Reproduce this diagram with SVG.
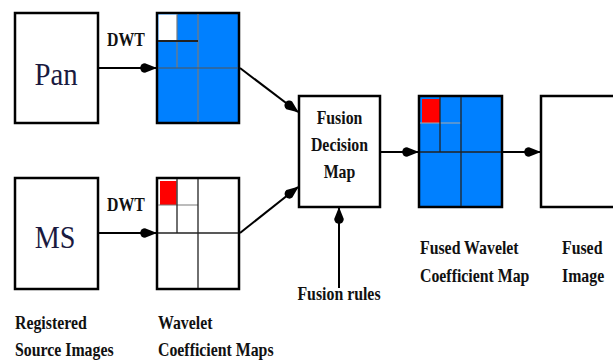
<svg xmlns="http://www.w3.org/2000/svg" width="613" height="360" viewBox="0 0 613 360">
<defs>
<style>
.box{fill:#fff;stroke:#000;stroke-width:2.5}
.map{stroke:#000;stroke-width:2.5}
.blue{fill:#0080ff}
.white{fill:#fff}
.red{fill:#ff0000}
.g{stroke:#7a7a7a;stroke-width:1.2;fill:none}
.k{stroke:#222;stroke-width:1.3;fill:none}
text{font-family:'Liberation Serif','Times New Roman',Times,'DejaVu Serif',serif}
.lbl{font-weight:bold;font-size:18px;fill:#111}
.big{font-size:32px;fill:#1a1a40}
.conn{stroke:#000;stroke-width:2;fill:none;marker-end:url(#ah)}
</style>
<marker id="ah" markerUnits="userSpaceOnUse" markerWidth="24" markerHeight="14" viewBox="-20 -7 22 14" refX="-1" refY="0" orient="auto">
<path d="M0,0 L-12,-4.8 A4.8,4.8 0 0 0 -12,4.8 Z" fill="#000"/>
</marker>
</defs>
<g id="connectors">
<line class="conn" x1="98" y1="68" x2="156" y2="68"/>
<line class="conn" x1="98" y1="233" x2="156" y2="233"/>
<line class="conn" x1="240" y1="68" x2="298" y2="112"/>
<line class="conn" x1="240" y1="233" x2="298" y2="187"/>
<line class="conn" x1="380" y1="152" x2="418" y2="152"/>
<line class="conn" x1="503" y1="152" x2="540" y2="152"/>
<line class="conn" x1="339" y1="288" x2="339" y2="208"/>
</g>
<g id="pan">
<rect class="box" x="15" y="13" width="83" height="110"/>
<text class="big" transform="matrix(0.9 0 0 1 56 85)" text-anchor="middle">Pan</text>
</g>
<g id="ms">
<rect class="box" x="15" y="178" width="83" height="111"/>
<text class="big" transform="matrix(0.88 0 0 1 55 248)" text-anchor="middle">MS</text>
</g>
<g id="dwt-labels">
<text class="lbl" transform="matrix(0.88 0 0 1 107 46)">DWT</text>
<text class="lbl" transform="matrix(0.88 0 0 1 107 211)">DWT</text>
</g>
<g id="pan-map">
<rect class="map blue" x="157" y="13" width="82" height="110"/>
<rect class="white" x="158.5" y="14.5" width="18.5" height="26.5"/>
<line class="g" x1="177" y1="14" x2="177" y2="68"/>
<line class="g" x1="198" y1="14" x2="198" y2="122"/>
<line class="k" x1="158" y1="41" x2="198" y2="41" style="stroke-width:1.8"/>
<line class="g" x1="158" y1="68" x2="238" y2="68" style="stroke:#555"/>
</g>
<g id="ms-map">
<rect class="map white" x="157" y="178" width="82" height="111"/>
<rect class="red" x="160" y="181" width="16.5" height="24"/>
<line class="g" x1="158" y1="205" x2="198" y2="205"/>
<line class="k" x1="177" y1="179" x2="177" y2="233"/>
<line class="k" x1="198" y1="179" x2="198" y2="288"/>
<line class="k" x1="158" y1="233" x2="238" y2="233"/>
</g>
<g id="fusion-decision-map">
<rect class="box" x="299" y="96" width="81" height="111"/>
<text class="lbl" transform="matrix(0.88 0 0 1 339.5 124)" text-anchor="middle">Fusion</text>
<text class="lbl" transform="matrix(0.88 0 0 1 339.5 151)" text-anchor="middle">Decision</text>
<text class="lbl" transform="matrix(0.88 0 0 1 339.5 178)" text-anchor="middle">Map</text>
</g>
<g id="fused-map">
<rect class="map blue" x="419" y="96" width="83" height="111"/>
<rect class="red" x="422" y="99" width="18" height="24"/>
<line class="g" x1="420" y1="123" x2="461" y2="123" style="stroke:#aaa"/>
<line class="k" x1="440" y1="97" x2="440" y2="152"/>
<line class="k" x1="461" y1="97" x2="461" y2="206"/>
<line class="k" x1="420" y1="152" x2="501" y2="152"/>
</g>
<g id="fused-image">
<rect class="box" x="541" y="96" width="80" height="111"/>
</g>
<g id="labels">
<text class="lbl" transform="matrix(0.88 0 0 1 339 300)" text-anchor="middle">Fusion  rules</text>
<text class="lbl" transform="matrix(0.88 0 0 1 420 254)">Fused Wavelet</text>
<text class="lbl" transform="matrix(0.88 0 0 1 420 282)">Coefficient Map</text>
<text class="lbl" transform="matrix(0.88 0 0 1 562 254)">Fused</text>
<text class="lbl" transform="matrix(0.88 0 0 1 562 282)">Image</text>
<text class="lbl" transform="matrix(0.88 0 0 1 15 329)">Registered</text>
<text class="lbl" transform="matrix(0.88 0 0 1 15 356)">Source Images</text>
<text class="lbl" transform="matrix(0.88 0 0 1 158 329)">Wavelet</text>
<text class="lbl" transform="matrix(0.88 0 0 1 158 356)">Coefficient Maps</text>
</g>
</svg>
